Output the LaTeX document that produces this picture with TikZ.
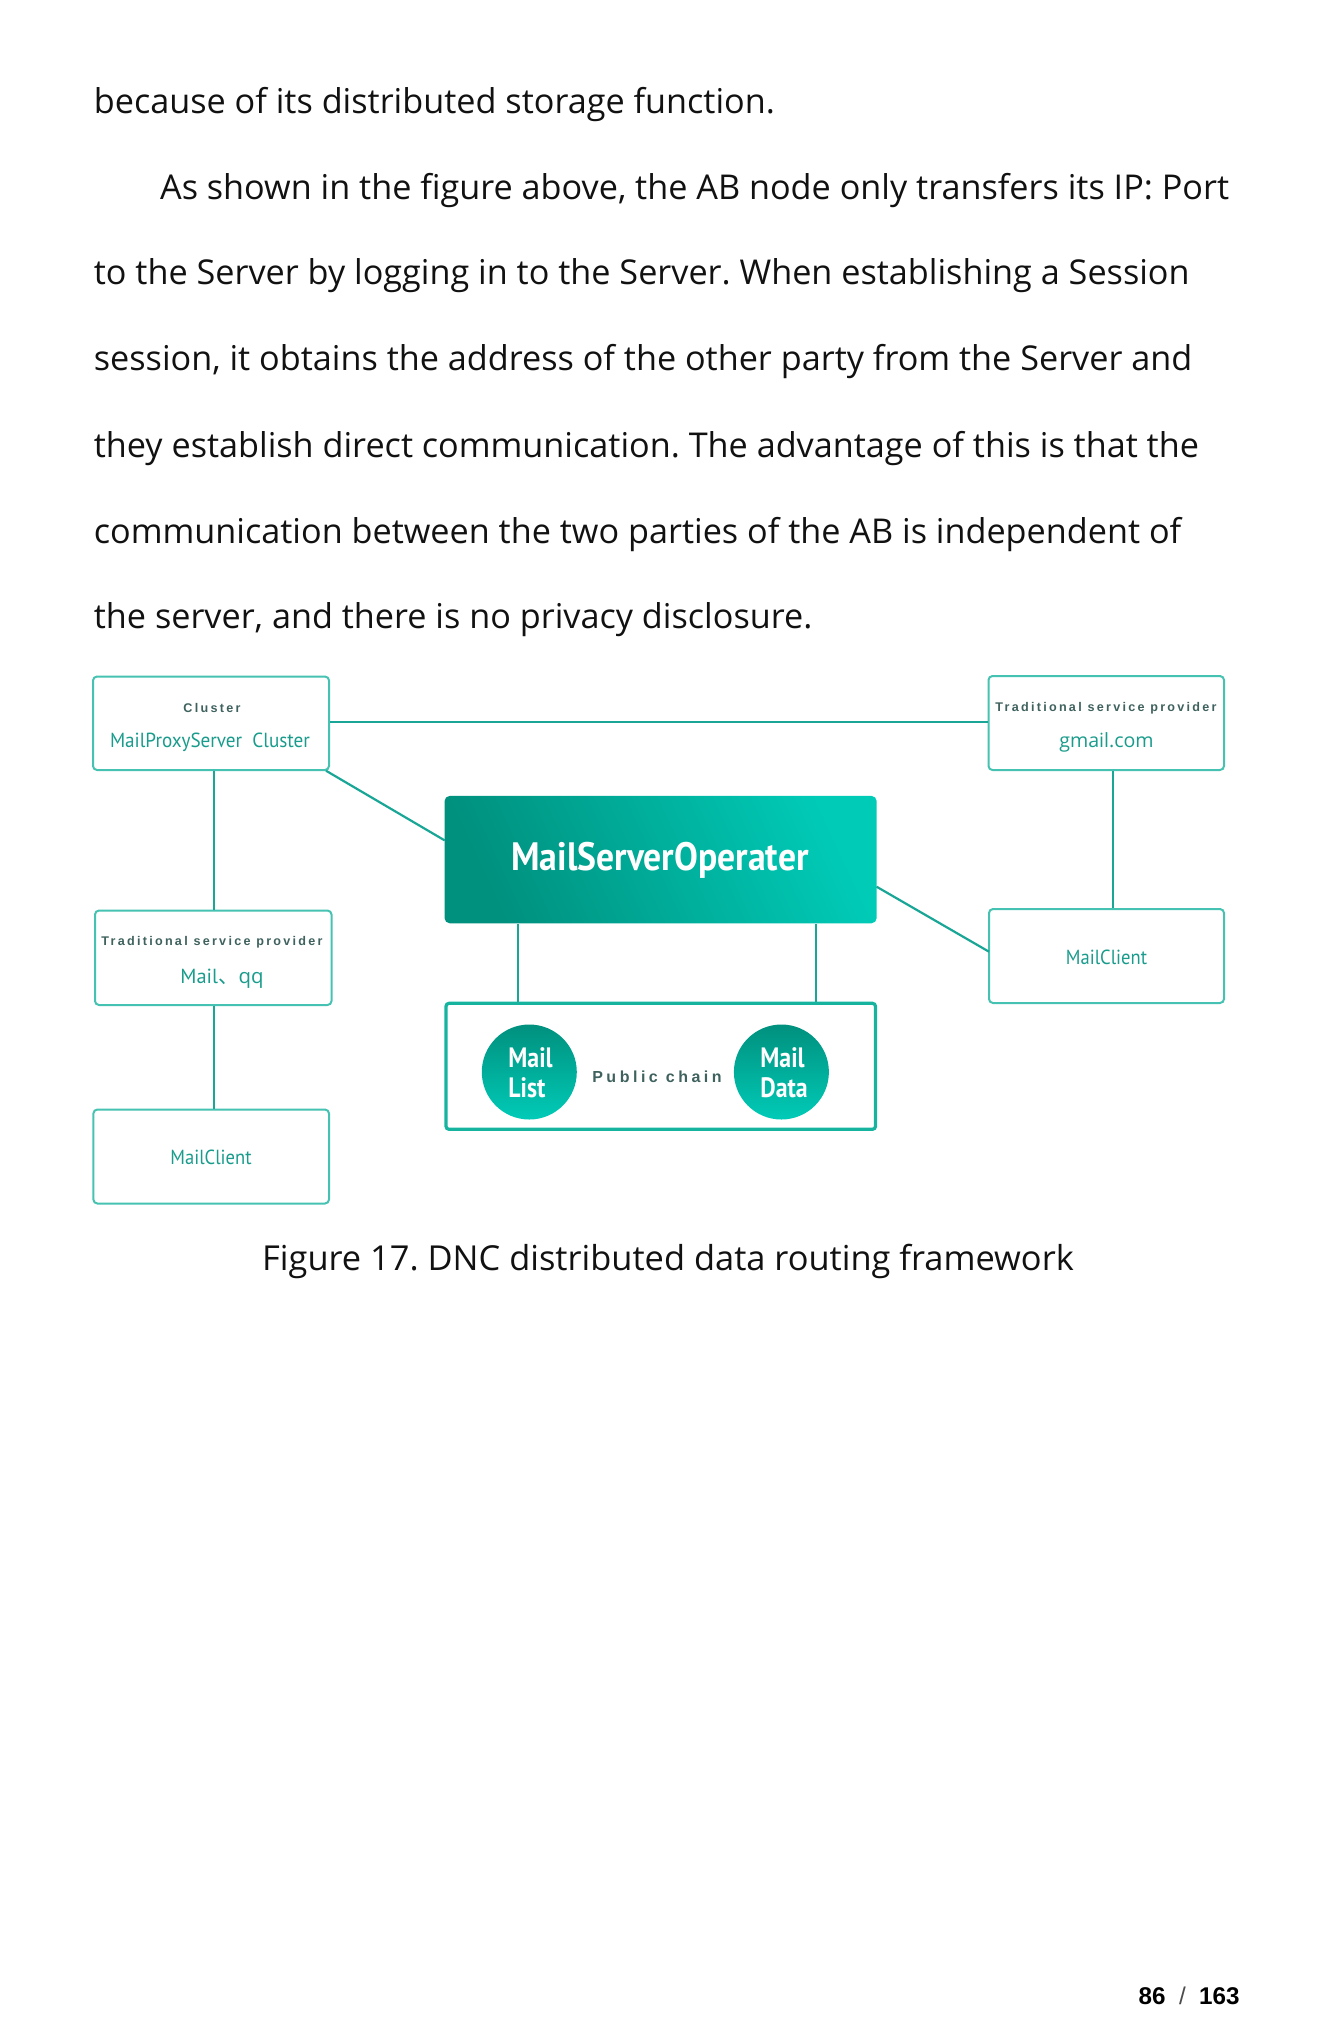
\documentclass[tikz,border=0pt]{standalone}
\usepackage{fontspec}
\usepackage{graphicx}
\setmainfont{Open Sans}
\newfontfamily\cond{PT Sans}
\newfontfamily\cjk{Noto Sans CJK SC}
\newfontfamily\spaced[LetterSpace=18]{Liberation Sans}
\newfontfamily\spacedb[LetterSpace=22]{Liberation Sans}
\newfontfamily\lib{Liberation Sans}
\definecolor{linec}{HTML}{1AA696}
\definecolor{boxc}{HTML}{45C2B2}
\definecolor{chainc}{HTML}{16B39F}
\definecolor{tealtext}{HTML}{199C8C}
\definecolor{greytext}{HTML}{3F625E}
\definecolor{msodark}{HTML}{00907E}
\definecolor{msolight}{HTML}{00CBB7}
\definecolor{bodytext}{HTML}{111111}
\frenchspacing
\begin{document}
\begin{tikzpicture}[x=0.5pt,y=-0.5pt,
  body/.style={anchor=base west,inner sep=0pt,font=\fontsize{17.1}{17.1}\selectfont,text=bodytext},
  wbox/.style={draw=boxc,line width=1pt,rounded corners=2pt,inner sep=0pt,fill=white},
  conn/.style={draw=linec,line width=1.1pt},
  small/.style={inner sep=0pt,font=\spaced\bfseries\fontsize{6.3}{6.3}\selectfont,text=greytext},
  condt/.style={inner sep=0pt,anchor=base,font=\cond\fontsize{10.2}{10.2}\selectfont,text=tealtext},
  circ/.style={circle,inner sep=0pt,minimum size=47.5pt,top color=msodark,bottom color=msolight,draw=none},
  circt/.style={inner sep=0pt,anchor=base west,font=\cond\bfseries\fontsize{14}{14}\selectfont,text=white}
]
\useasboundingbox (0,0) rectangle (1332,2041);
% body text
\node[body] (t1) at (93.5,113.6) {because of its distributed storage function.};
\node[body] (t2) at (159.7,199.5) {As shown in the figure above, the AB node only transfers its IP: Port};
\node[body] (t3) at (93.5,284.9) {to the Server by logging in to the Server. When establishing a Session};
\node[body] (t4) at (93.5,370.8) {session, it obtains the address of the other party from the Server and};
\node[body] (t5) at (93.5,457.5) {they establish direct communication. The advantage of this is that the};
\node[body] (t6) at (93.5,543.0) {communication between the two parties of the AB is independent of};
\node[body] (t7) at (93.5,628.8) {the server, and there is no privacy disclosure.};

% boxes
\node[wbox,minimum width=118pt,minimum height=46.75pt] (cluster) at (211,723.25) {};
\node[wbox,minimum width=117.75pt,minimum height=47pt] (gmail) at (1106.25,723) {};
\node[wbox,minimum width=118.25pt,minimum height=47.25pt] (mailqq) at (213.25,957.75) {};
\node[wbox,minimum width=117.8pt,minimum height=47pt] (lclient) at (211.2,1156.5) {};
\node[wbox,minimum width=117.5pt,minimum height=47pt] (rclient) at (1106.5,956) {};
\node[inner sep=0pt,minimum width=216pt,minimum height=63.65pt,rounded corners=2.5pt,
      left color=msodark,right color=msolight,shading angle=115] (mso) at (660.6,859.6) {};
\node[draw=chainc,line width=1.6pt,rounded corners=1.5pt,inner sep=0pt,minimum width=214.75pt,minimum height=63pt] (chain) at (660.75,1066.3) {};
\node[circ] (mlist) at (529.3,1072) {};
\node[circ] (mdata) at (781.4,1072) {};

% connectors
\coordinate (cr) at (cluster.east |- 0,722.3);
\coordinate (gl) at (gmail.west |- 0,722.3);
\draw[conn] (cr) -- (gl);
\coordinate (cb) at (213.6,770);
\draw[conn] (mailqq.north -| cb) -- (cluster.south -| cb);
\draw[conn] (lclient.north -| cb) -- (mailqq.south -| cb);
\coordinate (csE) at (326,770.7);
\coordinate (msoW) at (444.7,840.4);
\draw[conn] (csE) -- (msoW);
\coordinate (msoE) at (876.6,886.7);
\coordinate (rcW) at (989,951.7);
\draw[conn] (msoE) -- (rcW);
\coordinate (gx) at (1113.3,0);
\draw[conn] (gmail.south -| gx) -- (rclient.north -| gx);
\coordinate (v1) at (517.8,0);
\coordinate (v2) at (815.9,0);
\draw[conn] (mso.south -| v1) -- (chain.north -| v1);
\draw[conn] (mso.south -| v2) -- (chain.north -| v2);

% box texts
\node[small] (clt) at (212,707.5) {Cluster};
\node[condt] (mps) at (210,747.5) {\scalebox{0.94}[1]{MailProxyServer\ \ Cluster}};
\node[small] (tsp1) at (1106,708.3) {Traditional service provider};
\node[inner sep=0pt,anchor=base,font=\fontsize{9.8}{9.8}\selectfont,text=tealtext] (gm) at (1106.5,747.7) {gmail.com};
\node[small] (tsp2) at (212,942) {Traditional service provider};
\node[condt] (mq) at (222,983.2) {Mail{\cjk 、}{\fontspec{Open Sans}qq}};
\node[condt] (lc) at (211,1164.3) {\scalebox{0.91}[1]{MailClient}};
\node[condt] (rc) at (1106.5,964) {\scalebox{0.91}[1]{MailClient}};
\node[inner sep=0pt,anchor=base,font=\cond\bfseries\fontsize{19.8}{19.8}\selectfont,text=white] (msot) at (660,870.7) {\scalebox{0.9}[1]{MailServerOperater}};
\node[inner sep=0pt,anchor=base,font=\spacedb\bfseries\fontsize{8}{8}\selectfont,text=greytext] (pc) at (657,1082) {Public chain};
\node[circt] (ml1) at (508,1067) {\scalebox{0.85}[1]{Mail}};
\node[circt] (ml2) at (508,1097.5) {\scalebox{0.85}[1]{List}};
\node[circt] (md1) at (760,1067) {\scalebox{0.85}[1]{Mail}};
\node[circt] (md2) at (760,1097.5) {\scalebox{0.85}[1]{Data}};

% caption
\node[inner sep=0pt,anchor=base,font=\fontsize{17.2}{17.2}\selectfont,text=bodytext] (cap) at (668,1270) {Figure 17. DNC distributed data routing framework};
% page number
\node[inner sep=0pt,anchor=base east,font=\lib\fontsize{12.1}{12.1}\selectfont] (pg) at (1240,2004) {\textbf{86}\ \ {\color{black!70}/}\ \ \textbf{163}};
\end{tikzpicture}
\end{document}
